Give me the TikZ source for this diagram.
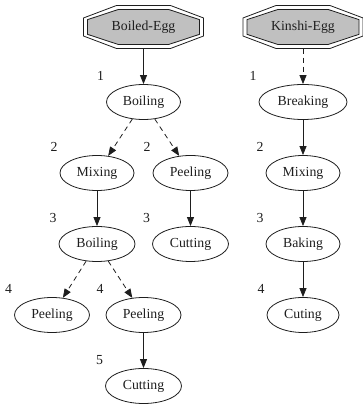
\documentclass[tikz,border=0pt]{standalone}
\usepackage{fontspec}
\setmainfont{Liberation Serif}
\usetikzlibrary{arrows.meta,calc,shapes.geometric}
\definecolor{octfill}{RGB}{192,192,192}
\definecolor{inkc}{RGB}{30,30,30}
\newcommand\octpath[3]{($(#1)+(#2,0.42*#3)$) -- ($(#1)+(0.45*#2,#3)$) -- ($(#1)+(-0.45*#2,#3)$) -- ($(#1)+(-#2,0.42*#3)$) -- ($(#1)+(-#2,-0.42*#3)$) -- ($(#1)+(-0.45*#2,-#3)$) -- ($(#1)+(0.45*#2,-#3)$) -- ($(#1)+(#2,-0.42*#3)$) -- cycle}
\begin{document}
\begin{tikzpicture}[x=1pt,y=1pt,
  txt/.style={font=\fontsize{13.8}{16}\selectfont, text=inkc},
  proc/.style={txt, ellipse, draw=inkc, line width=0.8pt, minimum height=35pt, inner sep=0pt},
  lbl/.style={txt, inner sep=0pt},
  root/.style={txt, inner sep=0pt, minimum width=120pt, minimum height=43pt},
  octline/.style={draw=inkc, line width=0.8pt},
  flow/.style={-{Triangle[length=9pt,width=7pt]}, draw=inkc, line width=0.8pt},
  opt/.style={flow, dash pattern=on 5pt off 4pt}]
\useasboundingbox (0,0) rectangle (363,406);
% root octagons
\coordinate (bec) at (143.5,379);
\coordinate (kec) at (303,379);
\path[octline] \octpath{bec}{60}{21.5};
\path[octline, fill=octfill] \octpath{bec}{56}{17.5};
\path[octline] \octpath{kec}{60}{21.5};
\path[octline, fill=octfill] \octpath{kec}{56}{17.5};
\node[root] (be) at (bec) {Boiled-Egg};
\node[root] (ke) at (kec) {Kinshi-Egg};
% Boiled-Egg tree
\node[proc, minimum width=74pt] (b1) at (143.5,304) {Boiling};
\node[proc, minimum width=74pt] (b2a) at (97,233) {Mixing};
\node[proc, minimum width=75pt] (b2b) at (190.5,233) {Peeling};
\node[proc, minimum width=76pt] (b3a) at (97,162) {Boiling};
\node[proc, minimum width=76pt] (b3b) at (190.5,162) {Cutting};
\node[proc, minimum width=75pt] (b4a) at (52,91) {Peeling};
\node[proc, minimum width=75pt] (b4b) at (143.5,91) {Peeling};
\node[proc, minimum width=76pt] (b5) at (143.5,20) {Cutting};
% Kinshi-Egg chain
\node[proc, minimum width=88pt] (k1) at (303,304) {Breaking};
\node[proc, minimum width=74pt] (k2) at (303,233) {Mixing};
\node[proc, minimum width=74pt] (k3) at (303,162) {Baking};
\node[proc, minimum width=72pt] (k4) at (303,91) {Cuting};
% step labels
\foreach \n/\t in {b1/1, b2a/2, b2b/2, b3a/3, b3b/3, b4a/4, b4b/4, b5/5, k1/1, k2/2, k3/3, k4/4}
  \node[lbl] (lab-\n) at ($(\n.west |- \n.north)+(-5.5,8.5)$) {\t};
% connectors
\draw[flow] (be) -- (b1);
\draw[opt] (b1) -- (b2a);
\draw[opt] (b1) -- (b2b);
\draw[flow] (b2a) -- (b3a);
\draw[flow] (b2b) -- (b3b);
\draw[opt] (b3a) -- (b4a);
\draw[opt] (b3a) -- (b4b);
\draw[flow] (b4b) -- (b5);
\draw[opt] (ke) -- (k1);
\draw[flow] (k1) -- (k2);
\draw[flow] (k2) -- (k3);
\draw[flow] (k3) -- (k4);
\end{tikzpicture}
\end{document}
